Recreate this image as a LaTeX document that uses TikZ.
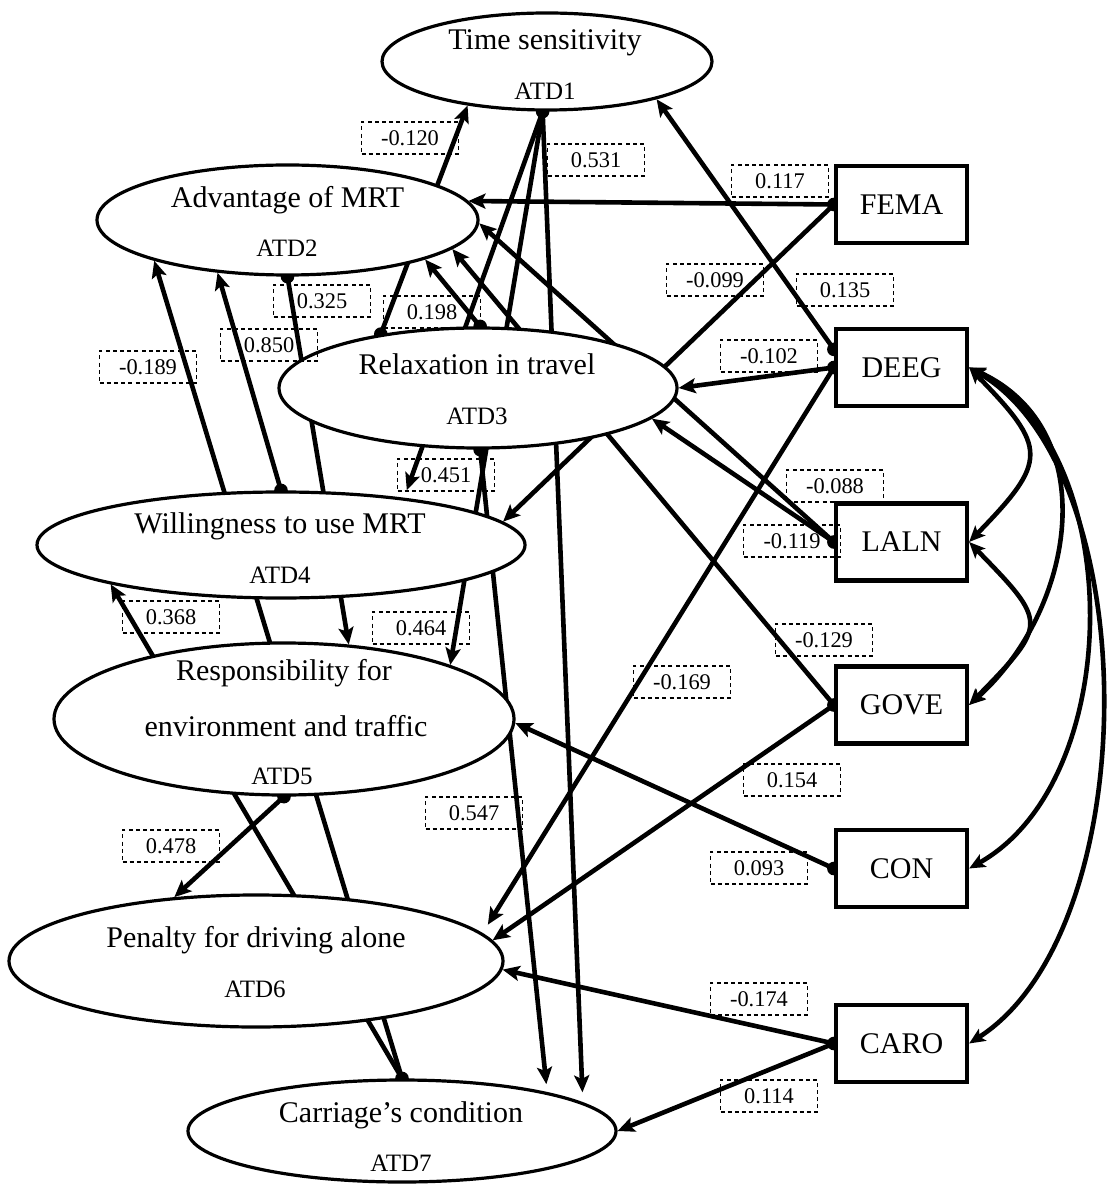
\documentclass[tikz,border=0pt]{standalone}
\usepackage{fontspec}
\setmainfont{Liberation Serif}
\usetikzlibrary{arrows.meta,shapes.geometric,backgrounds}
\begin{document}
\begin{tikzpicture}[x=0.5pt,y=-0.5pt,
  latent/.style={ellipse,draw,line width=1.6pt,fill=white,inner sep=0pt},
  obs/.style={rectangle,draw,line width=2.1pt,fill=white,minimum width=65.5pt,
    minimum height=38.5pt,inner sep=0pt,font=\fontsize{15}{18}\selectfont},
  coef/.style={draw,dash pattern=on 2pt off 1.6pt,line width=0.6pt,minimum width=48.5pt,
    minimum height=16pt,inner sep=0pt,font=\fontsize{11.2}{13}\selectfont},
  conname/.style={anchor=base,inner sep=0pt,font=\fontsize{15}{18}\selectfont},
  idlabel/.style={anchor=base,inner sep=0pt,font=\fontsize{12.5}{15}\selectfont},
  effect/.style={line width=2.3pt,-{Stealth[length=8.5pt,width=7.5pt,inset=1.8pt]}},
  cov/.style={line width=2.3pt,{Stealth[length=8pt,width=7pt,inset=1.8pt]}-{Stealth[length=8pt,width=7pt,inset=1.8pt]}}
]
\useasboundingbox (0,0) rectangle (1107,1186);

% latent constructs
\node[latent,minimum width=165pt,minimum height=48.5pt] (ATD1) at (547,61.5) {};
\node[latent,minimum width=190.5pt,minimum height=55pt] (ATD2) at (287.5,220) {};
\node[latent,minimum width=199pt,minimum height=60pt] (ATD3) at (478,388) {};
\node[latent,minimum width=244pt,minimum height=53pt] (ATD4) at (281,545) {};
\node[latent,minimum width=230pt,minimum height=76pt] (ATD5) at (284,719) {};
\node[latent,minimum width=247pt,minimum height=66pt] (ATD6) at (256,961) {};
\node[latent,minimum width=214pt,minimum height=51pt] (ATD7) at (402,1131) {};

% construct names and codes
\node[conname] (n1) at (545,50) {Time sensitivity};
\node[idlabel] (d1) at (545,100) {ATD1};
\node[conname] (n2) at (287.5,208) {Advantage of MRT};
\node[idlabel] (d2) at (287,257) {ATD2};
\node[conname] (n3) at (477,375) {Relaxation in travel};
\node[idlabel] (d3) at (477,425) {ATD3};
\node[conname] (n4) at (280,533) {Willingness to use MRT};
\node[idlabel] (d4) at (280,583) {ATD4};
\node[conname] (n5a) at (284,680) {Responsibility for};
\node[conname] (n5b) at (286,736) {environment and traffic};
\node[idlabel] (d5) at (282,784) {ATD5};
\node[conname] (n6) at (256,947) {Penalty for driving alone};
\node[idlabel] (d6) at (255,997) {ATD6};
\node[conname] (n7) at (401,1122) {Carriage’s condition};
\node[idlabel] (d7) at (401,1171) {ATD7};

% observed covariates
\node[obs] (FEMA) at (901.5,204.5) {FEMA};
\node[obs] (DEEG) at (901.5,367.5) {DEEG};
\node[obs] (LALN) at (901.5,542) {LALN};
\node[obs] (GOVE) at (901.5,705) {GOVE};
\node[obs] (CON) at (901.5,868.5) {CON};
\node[obs] (CARO) at (901.5,1043.5) {CARO};

% path coefficients
\node[coef] (c01) at (410,138) {-0.120};
\node[coef] (c02) at (596,160) {0.531};
\node[coef] (c03) at (780,181) {0.117};
\node[coef] (c04) at (715,280) {-0.099};
\node[coef] (c05) at (845,290) {0.135};
\node[coef] (c06) at (322,301) {0.325};
\node[coef] (c07) at (432,312) {0.198};
\node[coef] (c08) at (769,356) {-0.102};
\node[coef] (c09) at (148,367) {-0.189};
\node[coef] (c10) at (269,345) {0.850};
\node[coef] (c11) at (446,475) {0.451};
\node[coef] (c12) at (835,486) {-0.088};
\node[coef] (c13) at (792,541) {-0.119};
\node[coef] (c14) at (171,617) {0.368};
\node[coef] (c15) at (421,628) {0.464};
\node[coef] (c16) at (824,640) {-0.129};
\node[coef] (c17) at (682,682) {-0.169};
\node[coef] (c18) at (792,780) {0.154};
\node[coef] (c19) at (474,813) {0.547};
\node[coef] (c20) at (171,846) {0.478};
\node[coef] (c21) at (759,868) {0.093};
\node[coef] (c22) at (759,999) {-0.174};
\node[coef] (c23) at (769,1096) {0.114};

\begin{pgfonlayer}{background}
\fill[white] (0,0) rectangle (1107,1186);
% structural paths (run behind the constructs)
\draw[effect] (ATD3.151) -- (ATD1.209);
\draw[effect,shorten >=5pt] (ATD1.265) -- (ATD7.9);
\draw[effect] (FEMA.west) -- (ATD2.6);
\draw[effect] (FEMA.west) -- (ATD4.6);
\draw[effect] (DEEG.165) -- (ATD1.-19);
\draw[effect] (DEEG.west) -- (ATD3.0);
\draw[effect,shorten >=5pt] (DEEG.west) -- (ATD6.7);
\draw[effect] (LALN.west) -- (ATD2.-1);
\draw[effect] (LALN.west) -- (ATD3.-10);
\draw[effect] (GOVE.west) -- (ATD2.-10);
\draw[effect] (GOVE.west) -- (ATD6.5);
\draw[effect] (CON.west) -- (ATD5.-1);
\draw[effect] (CARO.west) -- (ATD6.-2);
\draw[effect] (CARO.west) -- (ATD7.0);
\draw[effect] (ATD2.-90) -- (ATD5.49);
\draw[effect] (ATD3.88) -- (ATD2.-16);
\draw[effect] (ATD7.90) -- (ATD2.197);
\draw[effect] (ATD4.90) -- (ATD2.217);
\draw[effect,shorten >=4pt] (ATD1.265) -- (ATD4.21);
\draw[effect] (ATD7.90) -- (ATD4.193);
\draw[effect] (ATD1.265) -- (ATD5.18);
\draw[effect,shorten >=4pt] (ATD3.-88) -- (ATD7.15);
\draw[effect] (ATD5.-90) -- (ATD6.142);
% source dots
\foreach \p in {ATD1.265,ATD3.151,ATD3.88,ATD3.-88,ATD2.-90,ATD4.90,ATD5.-90,ATD7.90,
  FEMA.west,DEEG.165,DEEG.west,LALN.west,GOVE.west,CON.west,CARO.west}
  \fill (\p) circle[radius=3.4pt];
% covariances among the covariates
\draw[cov] (DEEG.east) .. controls (1048,448) and (1048,461) .. (LALN.east);
\draw[cov] (LALN.east) .. controls (1048,623) and (1048,624) .. (GOVE.east);
\draw[cov] (DEEG.east) .. controls (1105,430) and (1075,610) .. (GOVE.east);
\draw[cov] (DEEG.east) .. controls (1127,450) and (1127,780) .. (CON.east);
\draw[cov] (DEEG.east) .. controls (1146,470) and (1146,930) .. (CARO.east);
\end{pgfonlayer}
\end{tikzpicture}
\end{document}
